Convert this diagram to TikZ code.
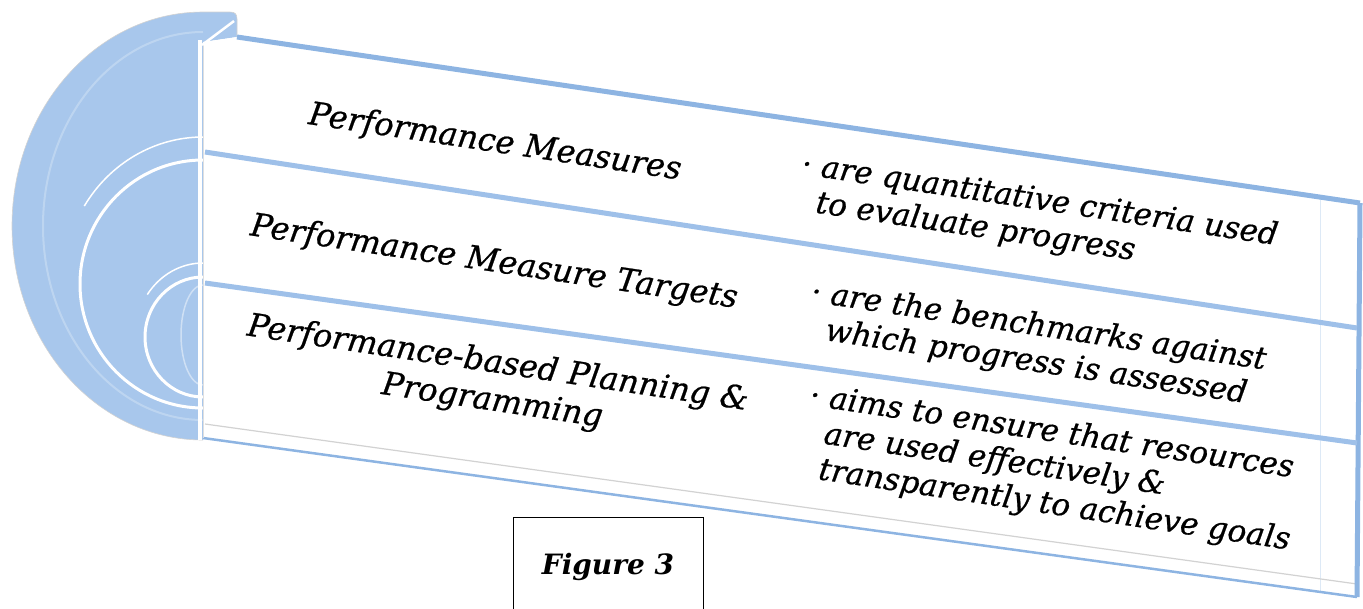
\documentclass[tikz,border=0pt]{standalone}
\usepackage{fontspec}
\setmainfont{DejaVu Serif}
\newfontfamily\heavy{DejaVu Serif}[FakeBold=0.7]
\definecolor{lblue}{RGB}{168,199,236}
\definecolor{eblue}{RGB}{141,180,226}
\definecolor{dblue}{RGB}{158,192,233}
\begin{document}
\begin{tikzpicture}[x=1pt,y=-1pt,
  lefttxt/.style={font=\heavy\itshape\fontsize{32}{38}\selectfont, rotate=-8.5, align=center, inner sep=0pt},
  righttxt/.style={font=\heavy\itshape\fontsize{31}{36}\selectfont, rotate=-8.5, align=left, inner sep=0pt},
  ring/.style={white, line width=3},
  thinring/.style={white, line width=1.5},
  divider/.style={dblue, line width=5},
  figbox/.style={draw=black, line width=0.8, minimum width=190, minimum height=100,
    font=\bfseries\itshape\fontsize{28}{34}\selectfont}]
\useasboundingbox (0,0) rectangle (1363,608);
\clip (0,0) rectangle (1363,608);
% left half disc
\fill[lblue] (203,440) arc[start angle=90, end angle=270, x radius=191, y radius=214]
  -- (230,12) .. controls (235,12) and (237,14) .. (237,19) -- (237,37) -- (203,42) -- cycle;
\draw[gray!35, line width=0.6] (203,440) arc[start angle=90, end angle=270, x radius=191, y radius=214]
  -- (230,12) .. controls (235,12) and (237,14) .. (237,19) -- (237,37);
\draw[white, opacity=0.25, line width=2] (203,420) arc[start angle=90, end angle=270, x radius=160, y radius=194];
% rings
\draw[ring] (203,408) arc[start angle=90, end angle=270, x radius=123, y radius=124];
\draw[thinring] (203,137) arc[start angle=270, end angle=212, x radius=140, y radius=147];
\draw[ring] (203,397) arc[start angle=90, end angle=270, x radius=58, y radius=60];
\draw[thinring] (203,263) arc[start angle=270, end angle=215, x radius=68, y radius=74];
\draw[white, opacity=0.45, line width=1.5] (203,385) arc[start angle=90, end angle=270, x radius=22, y radius=50];
% panel
\coordinate (TL) at (203,42);
\coordinate (TT) at (237,37);
\coordinate (TR) at (1360,203);
\coordinate (BR) at (1357,597);
\coordinate (BL) at (203,438);
\fill[white] (TL) -- (TT) -- (TR) -- (BR) -- (BL) -- cycle;
\draw[eblue!30, line width=1] (1320,198) -- (1320,592);
\draw[gray!35, line width=1.2] (205,424) -- (1357,584);
\draw[eblue, line width=2.5] (BL) -- (BR);
\draw[eblue, line width=5] (TT) -- (TR);
\draw[eblue, line width=5] (TR) -- (BR);
\draw[divider] (205,152) -- (1357,328);
\draw[divider] (205,283) -- (1357,443);
\draw[white, line width=4] (200,40) -- (200,440);
\draw[gray!25, line width=0.8] (203,44) -- (203,438);
\draw[white, line width=2.5] (202,45) -- (234,21);
% texts
\node[lefttxt] (pm) at (495,143) {Performance Measures};
\node[lefttxt] (pmt) at (494,263) {Performance Measure Targets};
\node[lefttxt] (pbpp) at (495,383) {Performance-based Planning \&\\Programming};
\node[righttxt] (r1) at (1037,219) {· are quantitative criteria used\\\phantom{· }to evaluate progress};
\node[righttxt] (r2) at (1036,345) {· are the benchmarks against\\\phantom{· }which progress is assessed};
\node[righttxt] (r3) at (1050,469) {· aims to ensure that resources\\\phantom{· }are used effectively \&\\\phantom{· }transparently to achieve goals};
\node[figbox] (fig) at (608,567) {Figure 3};
\end{tikzpicture}
\end{document}
